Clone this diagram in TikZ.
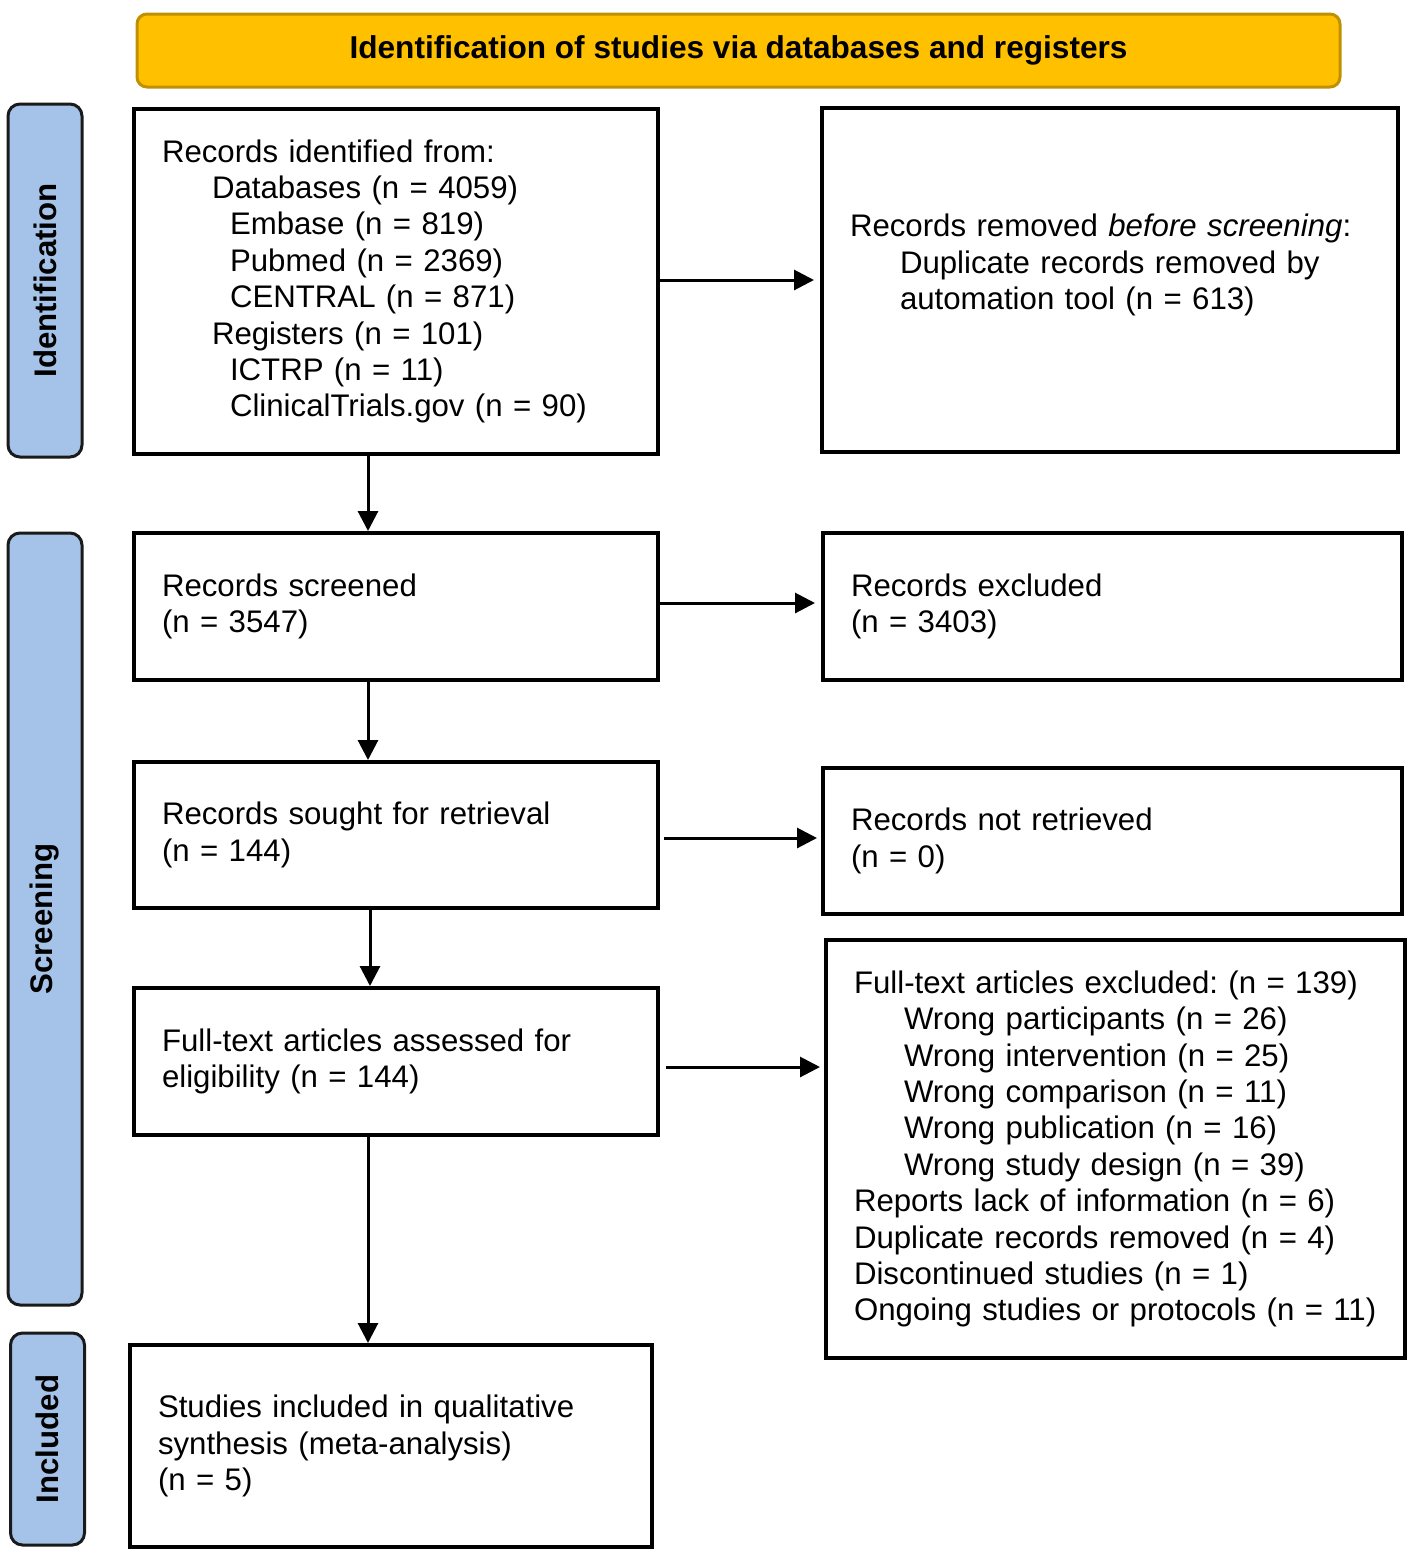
\documentclass[tikz,border=0pt]{standalone}
\usepackage{fontspec}
\setmainfont{Liberation Sans}
\usetikzlibrary{arrows.meta, positioning}
\definecolor{titlefill}{HTML}{FFC000}
\definecolor{titledraw}{HTML}{BF9000}
\definecolor{phasefill}{HTML}{A5C3E8}
\definecolor{phasedraw}{HTML}{1A1A1A}
\frenchspacing

\begin{document}
\begin{tikzpicture}[x=0.5pt,y=-0.5pt,
    box/.style={draw,line width=2pt,align=left,
        font=\fontsize{15.6}{18.2}\selectfont},
    phase/.style={draw=phasedraw,fill=phasefill,line width=1.5pt,rounded corners=6pt,
        rotate=90,font=\fontsize{15.6}{18}\selectfont\bfseries,minimum height=37pt},
    link/.style={line width=1.5pt,-{Triangle[length=10pt,width=10pt]}}]
    \useasboundingbox (0,0) rectangle (1418,1565);
    % header
    \node[draw=titledraw,fill=titlefill,line width=1.5pt,rounded corners=5pt,
        minimum width=601.5pt,minimum height=36.5pt,
        font=\fontsize{15.8}{18}\selectfont\bfseries] (title) at (738.5,50.5)
        {Identification of studies via databases and registers};
    % phase labels
    \node[phase,minimum width=176.5pt] (pident) at (45,280.5) {Identification};
    \node[phase,minimum width=386pt] (pscreen) at (45,919) {Screening};
    \node[phase,minimum width=106pt] (pincl) at (47.5,1439) {Included};
    % left column
    \node[box,minimum width=262pt,minimum height=172.5pt,text width=234pt] (ident) at (396,281.5)
        {Records identified from:\\
        \hspace*{25pt}Databases (n = 4059)\\
        \hspace*{34pt}Embase (n = 819)\\
        \hspace*{34pt}Pubmed (n = 2369)\\
        \hspace*{34pt}CENTRAL (n = 871)\\
        \hspace*{25pt}Registers (n = 101)\\
        \hspace*{34pt}ICTRP (n = 11)\\
        \hspace*{34pt}ClinicalTrials.gov (n = 90)};
    \node[box,minimum width=262pt,minimum height=73.5pt,text width=234pt] (screened) at (396,606.5)
        {Records screened\\(n = 3547)};
    \node[box,minimum width=262pt,minimum height=73pt,text width=234pt] (sought) at (396,835)
        {Records sought for retrieval\\(n = 144)};
    \node[box,minimum width=262pt,minimum height=73.5pt,text width=234pt] (fulltext) at (396,1061.5)
        {Full-text articles assessed for\\eligibility (n = 144)};
    \node[box,minimum width=261pt,minimum height=101pt,text width=233pt] (included) at (391,1446)
        {Studies included in qualitative\\synthesis (meta-analysis)\\(n = 5)};
    % right column
    \node[box,minimum width=288pt,minimum height=172pt,text width=260pt] (removed) at (1110,280)
        {Records removed \textit{before screening}:\\
        \hspace*{25pt}Duplicate records removed by\\
        \hspace*{25pt}automation tool (n = 613)\\ \mbox{}};
    \node[box,minimum width=289.5pt,minimum height=73.5pt,text width=261.5pt] (excluded) at (1112.5,606.5)
        {Records excluded\\(n = 3403)};
    \node[box,minimum width=289.5pt,minimum height=73pt,text width=261.5pt] (notretr) at (1112.5,841)
        {Records not retrieved\\(n = 0)};
    \node[box,minimum width=289.5pt,minimum height=209pt,text width=261.5pt] (reasons) at (1115.5,1149)
        {Full-text articles excluded: (n = 139)\\
        \hspace*{25pt}Wrong participants (n = 26)\\
        \hspace*{25pt}Wrong intervention (n = 25)\\
        \hspace*{25pt}Wrong comparison (n = 11)\\
        \hspace*{25pt}Wrong publication (n = 16)\\
        \hspace*{25pt}Wrong study design (n = 39)\\
        Reports lack of information (n = 6)\\
        Duplicate records removed (n = 4)\\
        Discontinued studies (n = 1)\\
        \mbox{Ongoing studies or protocols (n = 11)}};
    % arrows
    \draw[link,shorten >=3pt] (ident.east |- 0,280) -- (removed.west |- 0,280);
    \draw[link,shorten >=3pt] (screened.east |- 0,603) -- (excluded.west |- 0,603);
    \draw[link,shorten >=2pt] ([xshift=2pt]sought.east |- 0,838) -- (notretr.west |- 0,838);
    \draw[link,shorten >=2pt] ([xshift=3pt]fulltext.east |- 0,1067) -- (reasons.west |- 0,1067);
    \draw[link] ([xshift=-14pt]ident.south) -- ([xshift=-14pt]ident.south |- screened.north);
    \draw[link] ([xshift=-14pt]screened.south) -- ([xshift=-14pt]screened.south |- sought.north);
    \draw[link] ([xshift=-13pt]sought.south) -- ([xshift=-13pt]sought.south |- fulltext.north);
    \draw[link] ([xshift=-14pt]fulltext.south) -- ([xshift=-14pt]fulltext.south |- included.north);
\end{tikzpicture}
\end{document}
